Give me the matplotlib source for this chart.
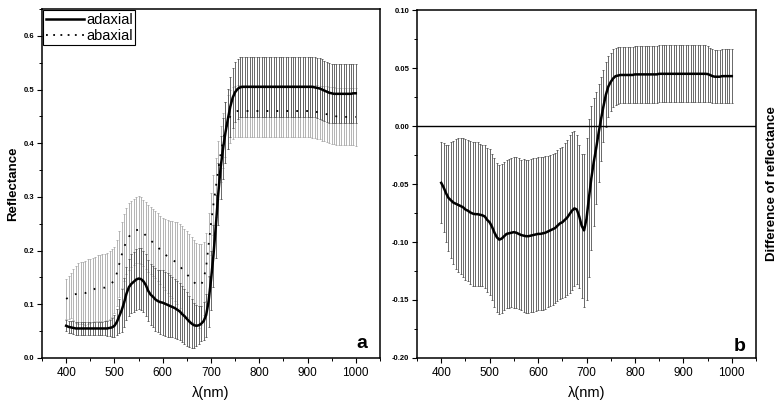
import numpy as np
import matplotlib.pyplot as plt
from matplotlib.ticker import MultipleLocator, FormatStrFormatter
from matplotlib.lines import Line2D

plt.rcParams['font.family'] = ['Liberation Sans', 'DejaVu Sans']
plt.rcParams['axes.unicode_minus'] = False

# wavelength grid, 5 nm steps from 400 to 1000 nm
wl = np.arange(400, 1001, 5)

# adaxial reflectance (mean, sd)
ad_mean = [0.060, 0.058, 0.057, 0.056, 0.055, 0.055, 0.055, 0.055, 0.055, 0.055,
           0.055, 0.055, 0.055, 0.055, 0.055, 0.055, 0.055, 0.055, 0.056, 0.057,
           0.060, 0.067, 0.078, 0.089, 0.103, 0.120, 0.132, 0.138, 0.142, 0.146,
           0.148, 0.147, 0.143, 0.136, 0.125, 0.118, 0.114, 0.109, 0.106, 0.104,
           0.103, 0.101, 0.099, 0.097, 0.095, 0.093, 0.090, 0.087, 0.082, 0.078,
           0.073, 0.068, 0.064, 0.061, 0.060, 0.061, 0.064, 0.069, 0.080, 0.105,
           0.145, 0.190, 0.245, 0.305, 0.355, 0.390, 0.420, 0.445, 0.468, 0.485,
           0.495, 0.501, 0.504, 0.505, 0.505, 0.505, 0.505, 0.505, 0.505, 0.505,
           0.505, 0.505, 0.505, 0.505, 0.505, 0.505, 0.505, 0.505, 0.505, 0.505,
           0.505, 0.505, 0.505, 0.505, 0.505, 0.505, 0.505, 0.505, 0.505, 0.505,
           0.505, 0.505, 0.505, 0.504, 0.503, 0.502, 0.500, 0.498, 0.496, 0.494,
           0.493, 0.492, 0.492, 0.492, 0.492, 0.492, 0.492, 0.492, 0.492, 0.493,
           0.493]
ad_sd = [0.010, 0.011, 0.011, 0.012, 0.012, 0.012, 0.012, 0.012, 0.012, 0.012,
         0.012, 0.012, 0.012, 0.012, 0.012, 0.012, 0.013, 0.014, 0.015, 0.017,
         0.020, 0.025, 0.032, 0.040, 0.046, 0.050, 0.053, 0.055, 0.056, 0.057,
         0.057, 0.057, 0.057, 0.057, 0.057, 0.057, 0.057, 0.058, 0.058, 0.059,
         0.060, 0.060, 0.060, 0.058, 0.056, 0.055, 0.054, 0.053, 0.052, 0.051,
         0.050, 0.048, 0.046, 0.042, 0.038, 0.035, 0.033, 0.035, 0.040, 0.048,
         0.055, 0.058, 0.058, 0.058, 0.058, 0.057, 0.057, 0.056, 0.056, 0.056,
         0.056, 0.056, 0.056, 0.056, 0.056, 0.056, 0.056, 0.056, 0.056, 0.056,
         0.056, 0.056, 0.056, 0.056, 0.056, 0.056, 0.056, 0.056, 0.056, 0.056,
         0.056, 0.056, 0.056, 0.056, 0.056, 0.056, 0.056, 0.056, 0.056, 0.056,
         0.056, 0.056, 0.056, 0.056, 0.056, 0.056, 0.056, 0.056, 0.056, 0.056,
         0.055, 0.055, 0.055, 0.055, 0.055, 0.055, 0.055, 0.055, 0.055, 0.055,
         0.055]

# abaxial reflectance (mean, sd)
ab_mean = [0.110, 0.113, 0.116, 0.118, 0.119, 0.120, 0.121, 0.121, 0.121, 0.124,
           0.125, 0.127, 0.129, 0.130, 0.130, 0.131, 0.131, 0.133, 0.136, 0.140,
           0.145, 0.158, 0.175, 0.192, 0.206, 0.218, 0.226, 0.231, 0.235, 0.238,
           0.239, 0.237, 0.233, 0.228, 0.223, 0.219, 0.215, 0.211, 0.207, 0.201,
           0.197, 0.193, 0.189, 0.186, 0.183, 0.180, 0.177, 0.172, 0.166, 0.161,
           0.156, 0.151, 0.146, 0.141, 0.137, 0.134, 0.137, 0.148, 0.169, 0.210,
           0.250, 0.285, 0.318, 0.350, 0.380, 0.405, 0.425, 0.440, 0.450, 0.456,
           0.459, 0.460, 0.460, 0.460, 0.460, 0.460, 0.460, 0.460, 0.460, 0.460,
           0.460, 0.460, 0.460, 0.460, 0.460, 0.460, 0.460, 0.460, 0.460, 0.460,
           0.460, 0.460, 0.460, 0.460, 0.460, 0.460, 0.460, 0.460, 0.460, 0.460,
           0.460, 0.460, 0.459, 0.459, 0.458, 0.457, 0.456, 0.455, 0.454, 0.453,
           0.452, 0.451, 0.450, 0.450, 0.449, 0.449, 0.449, 0.449, 0.449, 0.449,
           0.449]
ab_sd = [0.037, 0.040, 0.042, 0.048, 0.053, 0.056, 0.057, 0.058, 0.059, 0.060,
         0.060, 0.060, 0.060, 0.061, 0.062, 0.063, 0.063, 0.063, 0.063, 0.063,
         0.062, 0.062, 0.062, 0.062, 0.062, 0.062, 0.062, 0.062, 0.062, 0.062,
         0.062, 0.062, 0.062, 0.062, 0.062, 0.062, 0.062, 0.062, 0.063, 0.063,
         0.064, 0.066, 0.068, 0.070, 0.072, 0.074, 0.076, 0.078, 0.080, 0.080,
         0.080, 0.080, 0.079, 0.078, 0.078, 0.078, 0.075, 0.068, 0.063, 0.060,
         0.058, 0.056, 0.055, 0.054, 0.053, 0.052, 0.051, 0.050, 0.049, 0.048,
         0.048, 0.048, 0.048, 0.048, 0.048, 0.048, 0.048, 0.048, 0.048, 0.048,
         0.048, 0.048, 0.048, 0.048, 0.048, 0.048, 0.048, 0.048, 0.048, 0.048,
         0.048, 0.048, 0.048, 0.048, 0.048, 0.048, 0.048, 0.048, 0.048, 0.048,
         0.048, 0.048, 0.049, 0.049, 0.050, 0.050, 0.051, 0.051, 0.052, 0.052,
         0.053, 0.053, 0.053, 0.053, 0.053, 0.053, 0.053, 0.053, 0.053, 0.053,
         0.054]

# difference of reflectance (mean, sd)
diff_mean = [-0.049, -0.053, -0.058, -0.062, -0.064, -0.066, -0.067, -0.068, -0.069, -0.070,
             -0.072, -0.073, -0.0745, -0.0755, -0.076, -0.076, -0.0765, -0.077, -0.078, -0.081,
             -0.083, -0.087, -0.092, -0.096, -0.098, -0.097, -0.095, -0.093, -0.0925, -0.092,
             -0.0915, -0.092, -0.093, -0.094, -0.0945, -0.095, -0.095, -0.0945, -0.094, -0.0935,
             -0.093, -0.093, -0.0925, -0.092, -0.091, -0.090, -0.089, -0.088, -0.086, -0.084,
             -0.083, -0.081, -0.079, -0.076, -0.073, -0.071, -0.072, -0.078, -0.086, -0.090,
             -0.080, -0.062, -0.045, -0.031, -0.019, -0.006, 0.006, 0.017, 0.027, 0.034,
             0.038, 0.041, 0.043, 0.0435, 0.044, 0.044, 0.044, 0.044, 0.044, 0.044,
             0.0445, 0.0445, 0.0445, 0.0445, 0.0445, 0.0445, 0.0445, 0.0445, 0.0445, 0.0445,
             0.045, 0.045, 0.045, 0.045, 0.045, 0.045, 0.045, 0.045, 0.045, 0.045,
             0.045, 0.045, 0.045, 0.045, 0.045, 0.045, 0.045, 0.045, 0.045, 0.045,
             0.0448, 0.044, 0.043, 0.0425, 0.0425, 0.0425, 0.043, 0.043, 0.043, 0.043,
             0.043]
diff_sd = [0.035, 0.038, 0.042, 0.046, 0.050, 0.053, 0.056, 0.058, 0.059, 0.060,
           0.061, 0.061, 0.062, 0.062, 0.062, 0.062, 0.061, 0.061, 0.062, 0.062,
           0.063, 0.063, 0.064, 0.064, 0.064, 0.064, 0.064, 0.064, 0.064, 0.064,
           0.065, 0.065, 0.065, 0.065, 0.066, 0.066, 0.066, 0.066, 0.066, 0.066,
           0.066, 0.066, 0.066, 0.066, 0.065, 0.065, 0.065, 0.065, 0.065, 0.065,
           0.065, 0.066, 0.067, 0.068, 0.068, 0.067, 0.064, 0.062, 0.062, 0.066,
           0.070, 0.068, 0.062, 0.055, 0.048, 0.042, 0.036, 0.031, 0.028, 0.026,
           0.025, 0.025, 0.0245, 0.0245, 0.0245, 0.0245, 0.0245, 0.0245, 0.0245, 0.0245,
           0.0245, 0.0245, 0.0245, 0.0245, 0.0245, 0.0245, 0.0245, 0.0245, 0.0245, 0.0245,
           0.0245, 0.0245, 0.0245, 0.0245, 0.0245, 0.0245, 0.0245, 0.0245, 0.0245, 0.0245,
           0.0245, 0.0245, 0.0245, 0.0245, 0.0245, 0.0245, 0.0245, 0.0245, 0.0245, 0.0245,
           0.024, 0.0235, 0.023, 0.023, 0.023, 0.023, 0.023, 0.023, 0.023, 0.023,
           0.023]

fig = plt.figure(figsize=(7.84, 4.07), dpi=100)
ax1 = fig.add_axes([0.0536, 0.1204, 0.431, 0.8575])
ax2 = fig.add_axes([0.5319, 0.1204, 0.4324, 0.855])

# panel a
ax1.errorbar(wl, ab_mean, yerr=ab_sd, fmt='none', ecolor='#a8a8a8',
             elinewidth=0.6, capsize=1, capthick=0.6, zorder=1)
ax1.errorbar(wl, ad_mean, yerr=ad_sd, fmt='none', ecolor='#505050',
             elinewidth=0.6, capsize=1, capthick=0.6, zorder=2)
ax1.plot(wl, ab_mean, color='black', lw=1.3, ls=(0, (1, 4.5)), zorder=3)
ax1.plot(wl, ad_mean, color='black', lw=1.8, zorder=4)

handles = [Line2D([], [], color='black', lw=1.8),
           Line2D([], [], color='black', lw=1.3, ls=(0, (1, 3)))]
leg = ax1.legend(handles, ['adaxial', 'abaxial'], loc='upper left', fontsize=10.5,
                 frameon=True, fancybox=False, framealpha=1, edgecolor='black',
                 borderpad=0.15, labelspacing=0.15, handlelength=2.6,
                 handletextpad=0.2, borderaxespad=0.1)
leg.get_frame().set_linewidth(0.8)

ax1.set_xlim(350, 1050)
ax1.set_ylim(0, 0.65)
ax1.yaxis.set_major_locator(MultipleLocator(0.1))
ax1.yaxis.set_minor_locator(MultipleLocator(0.05))
ax1.yaxis.set_major_formatter(FormatStrFormatter('%.1f'))
ax1.set_ylabel('Reflectance', fontsize=9.5, weight='bold', labelpad=3)
ax1.text(0.962, 0.03, 'a', transform=ax1.transAxes, ha='right', va='baseline',
         fontsize=14, weight='bold')

# panel b
ax2.errorbar(wl, diff_mean, yerr=diff_sd, fmt='none', ecolor='#505050',
             elinewidth=0.6, capsize=1, capthick=0.6, zorder=1)
ax2.plot(wl, diff_mean, color='black', lw=1.8, zorder=3)
ax2.axhline(0, color='black', lw=1.0, zorder=2)
ax2.set_xlim(350, 1050)
ax2.set_ylim(-0.2, 0.1)
ax2.yaxis.set_major_locator(MultipleLocator(0.05))
ax2.yaxis.set_minor_locator(MultipleLocator(0.025))
ax2.yaxis.set_major_formatter(FormatStrFormatter('%.2f'))
ax2.yaxis.set_label_position('right')
ax2.set_ylabel('Difference of reflectance', fontsize=9.5, weight='bold', labelpad=7)
ax2.text(0.968, 0.02, 'b', transform=ax2.transAxes, ha='right', va='baseline',
         fontsize=14, weight='bold')

for ax in (ax1, ax2):
    ax.xaxis.set_major_locator(MultipleLocator(100))
    ax.xaxis.set_minor_locator(MultipleLocator(50))
    ax.set_xlabel('λ(nm)', fontsize=10.5, labelpad=5)
    ax.tick_params(axis='x', which='major', direction='out', length=3.5, width=0.8,
                   labelsize=8.5, pad=3)
    ax.tick_params(axis='x', which='minor', direction='out', length=2, width=0.7)
    ax.tick_params(axis='y', which='major', direction='out', length=3.5, width=0.8,
                   labelsize=5.5, pad=2)
    ax.tick_params(axis='y', which='minor', direction='out', length=2, width=0.7)
    for lbl in ax.get_yticklabels():
        lbl.set_fontweight('bold')
    for sp in ax.spines.values():
        sp.set_linewidth(1.1)

fig.savefig('out.png', dpi=100)
